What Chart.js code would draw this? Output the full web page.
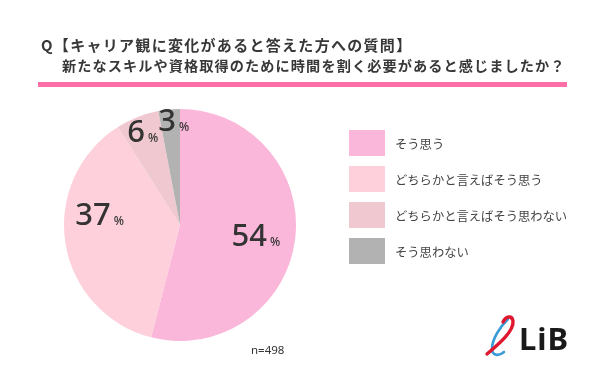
<!DOCTYPE html>
<html>
<head>
<meta charset="utf-8">
<script src="https://cdn.jsdelivr.net/npm/chart.js@4.4.1/dist/chart.umd.min.js"></script>
<style>
  html, body { margin:0; padding:0; background:#fff; }
  #wrap { position:relative; width:600px; height:383px; overflow:hidden; font-family:"Noto Sans CJK JP","Noto Sans",sans-serif; color:#333; }
  #c { position:absolute; left:0; top:0; }
  .t1 { position:absolute; left:41px; top:35px; font-size:15px; font-weight:700; line-height:20px; white-space:nowrap; letter-spacing:1.3px; color:#383838; }
  .t2 { position:absolute; left:62px; top:55px; font-size:14.2px; font-weight:700; line-height:20px; white-space:nowrap; letter-spacing:1.07px; color:#383838; }
  .rule { position:absolute; left:38px; top:82px; width:529px; height:5px; background:#fd6fa6; }
  .n { position:absolute; left:251px; top:342px; font-family:"Noto Sans",sans-serif; font-size:11.5px; color:#333; }
  .logo { position:absolute; left:519px; top:318px; font-family:"Noto Sans","DejaVu Sans",sans-serif; font-weight:700; font-size:31px; line-height:40px; color:#1a1a1a; letter-spacing:1px; }
  #sw { position:absolute; left:482px; top:313px; }
</style>
</head>
<body>
<div id="wrap">
  <canvas id="c" width="600" height="383"></canvas>
  <div class="t1">Q【キャリア観に変化があると答えた方への質問】</div>
  <div class="t2">新たなスキルや資格取得のために時間を割く必要があると感じましたか？</div>
  <div class="rule"></div>
  <div class="n">n=498</div>
  <svg id="sw" width="40" height="46" viewBox="0 0 40 46">
    <path d="M26 6 C 18 14, 10 26, 10 36 C 10 42, 16 44, 22 39" fill="none" stroke="#3b9bd6" stroke-width="2.6" stroke-linecap="round"/>
    <path d="M5 41 C 18 30, 32 18, 31 8 C 30 2, 24 3, 21 9" fill="none" stroke="#e0182f" stroke-width="3.4" stroke-linecap="round"/>
  </svg>
  <div class="logo">LiB</div>
</div>
<script>
const categories = ["そう思う", "どちらかと言えばそう思う", "どちらかと言えばそう思わない", "そう思わない"];
const values = [54, 37, 6, 3];
const colors = ["#fbb7da", "#fdd0dc", "#efc9cf", "#b2b2b2"];
const labelRadius = [0.66, 0.70, 0.875, 0.905];
const labelAngleShift = [0, 17, 0, 2];

const pctLabels = {
  id: 'pctLabels',
  afterDatasetsDraw(chart) {
    const ctx = chart.ctx;
    const meta = chart.getDatasetMeta(0);
    meta.data.forEach((arc, i) => {
      const p = arc.getProps(['x','y','startAngle','endAngle','outerRadius'], true);
      const mid = (p.startAngle + p.endAngle) / 2 + labelAngleShift[i] * Math.PI / 180;
      const r = p.outerRadius * labelRadius[i];
      const cx = p.x + Math.cos(mid) * r;
      const cy = p.y + Math.sin(mid) * r;
      const num = String(chart.data.datasets[0].data[i]);
      ctx.save();
      ctx.fillStyle = '#333';
      ctx.textBaseline = 'alphabetic';
      ctx.font = '500 31px "Noto Sans", sans-serif';
      const wn = ctx.measureText(num).width;
      ctx.font = '500 12px "Noto Sans", sans-serif';
      const wp = ctx.measureText('%').width;
      const gap = 3;
      const total = wn + gap + wp;
      const x0 = cx - total / 2;
      const base = cy + 11;
      ctx.textAlign = 'left';
      ctx.font = '500 31px "Noto Sans", sans-serif';
      ctx.fillText(num, x0, base);
      ctx.font = '500 12px "Noto Sans", sans-serif';
      ctx.fillText('%', x0 + wn + gap, base);
      ctx.restore();
    });
  }
};

const sideLegend = {
  id: 'sideLegend',
  afterDraw(chart) {
    const ctx = chart.ctx;
    const ds = chart.data.datasets[0];
    const bx = 349, bw = 36, bh = 26, top0 = 130, step = 36;
    chart.data.labels.forEach((lab, i) => {
      const y = top0 + i * step;
      ctx.save();
      ctx.fillStyle = ds.backgroundColor[i];
      ctx.fillRect(bx, y, bw, bh);
      ctx.fillStyle = '#444';
      ctx.font = '12.3px "Noto Sans CJK JP", sans-serif';
      ctx.textBaseline = 'middle';
      ctx.textAlign = 'left';
      ctx.fillText(lab, 395, y + bh / 2 + 1);
      ctx.restore();
    });
  }
};

new Chart(document.getElementById('c'), {
  type: 'pie',
  data: {
    labels: categories,
    datasets: [{
      data: values,
      backgroundColor: colors,
      borderWidth: 0
    }]
  },
  options: {
    responsive: false,
    animation: false,
    layout: { padding: { left: 64, right: 304, top: 109, bottom: 42 } },
    plugins: {
      legend: { display: false },
      tooltip: { enabled: false },
      title: { display: false }
    }
  },
  plugins: [pctLabels, sideLegend]
});
</script>
</body>
</html>
